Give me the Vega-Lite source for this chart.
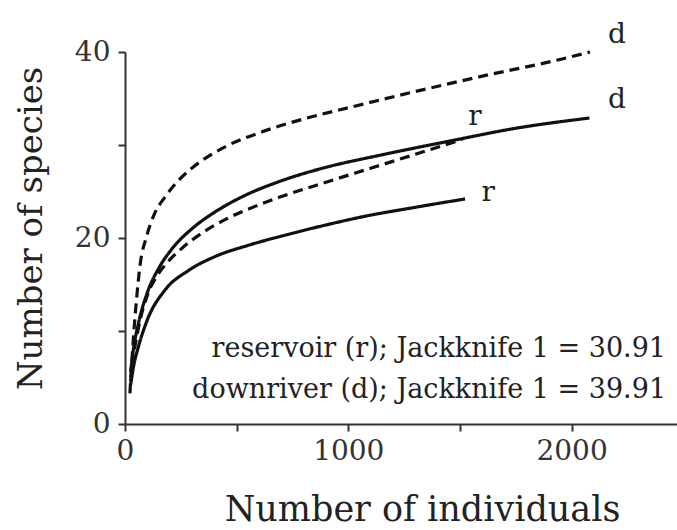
{
  "$schema": "https://vega.github.io/schema/vega-lite/v6.json",
  "width": 552,
  "height": 372,
  "autosize": {"type": "none"},
  "padding": {"left": 125, "top": 52, "right": 0, "bottom": 106},
  "background": "white",
  "config": {
    "view": {"stroke": null},
    "font": "DejaVu Serif",
    "axis": {
      "grid": false,
      "domainColor": "#333",
      "domainWidth": 2,
      "tickColor": "#333",
      "tickWidth": 2,
      "tickSize": 7,
      "labelFont": "DejaVu Serif",
      "labelFontSize": 28,
      "labelColor": "#333",
      "titleFont": "DejaVu Serif",
      "titleFontSize": 34,
      "titleFontWeight": "normal",
      "titleColor": "#222"
    }
  },
  "datasets": {
    "curves": [
      {"series": "d_obs", "kind": "observed", "n": 25, "s": 5.6},
      {"series": "d_obs", "kind": "observed", "n": 40, "s": 8.4},
      {"series": "d_obs", "kind": "observed", "n": 60, "s": 10.8},
      {"series": "d_obs", "kind": "observed", "n": 104, "s": 14.4},
      {"series": "d_obs", "kind": "observed", "n": 150, "s": 16.7},
      {"series": "d_obs", "kind": "observed", "n": 216, "s": 19.0},
      {"series": "d_obs", "kind": "observed", "n": 300, "s": 21.0},
      {"series": "d_obs", "kind": "observed", "n": 403, "s": 22.8},
      {"series": "d_obs", "kind": "observed", "n": 522, "s": 24.4},
      {"series": "d_obs", "kind": "observed", "n": 694, "s": 26.1},
      {"series": "d_obs", "kind": "observed", "n": 900, "s": 27.6},
      {"series": "d_obs", "kind": "observed", "n": 1142, "s": 28.9},
      {"series": "d_obs", "kind": "observed", "n": 1470, "s": 30.5},
      {"series": "d_obs", "kind": "observed", "n": 1750, "s": 31.8},
      {"series": "d_obs", "kind": "observed", "n": 2080, "s": 32.9},
      {"series": "r_obs", "kind": "observed", "n": 25, "s": 4.2},
      {"series": "r_obs", "kind": "observed", "n": 40, "s": 6.4},
      {"series": "r_obs", "kind": "observed", "n": 60, "s": 8.3},
      {"series": "r_obs", "kind": "observed", "n": 100, "s": 11.2},
      {"series": "r_obs", "kind": "observed", "n": 179, "s": 14.4},
      {"series": "r_obs", "kind": "observed", "n": 284, "s": 16.5},
      {"series": "r_obs", "kind": "observed", "n": 403, "s": 18.0},
      {"series": "r_obs", "kind": "observed", "n": 550, "s": 19.2},
      {"series": "r_obs", "kind": "observed", "n": 700, "s": 20.2},
      {"series": "r_obs", "kind": "observed", "n": 900, "s": 21.4},
      {"series": "r_obs", "kind": "observed", "n": 1067, "s": 22.3},
      {"series": "r_obs", "kind": "observed", "n": 1300, "s": 23.3},
      {"series": "r_obs", "kind": "observed", "n": 1523, "s": 24.2},
      {"series": "r_est", "kind": "estimated", "n": 25, "s": 4.6},
      {"series": "r_est", "kind": "estimated", "n": 40, "s": 7.6},
      {"series": "r_est", "kind": "estimated", "n": 60, "s": 10.3},
      {"series": "r_est", "kind": "estimated", "n": 104, "s": 14.1},
      {"series": "r_est", "kind": "estimated", "n": 140, "s": 15.8},
      {"series": "r_est", "kind": "estimated", "n": 187, "s": 17.3},
      {"series": "r_est", "kind": "estimated", "n": 260, "s": 19.0},
      {"series": "r_est", "kind": "estimated", "n": 343, "s": 20.5},
      {"series": "r_est", "kind": "estimated", "n": 450, "s": 22.0},
      {"series": "r_est", "kind": "estimated", "n": 582, "s": 23.4},
      {"series": "r_est", "kind": "estimated", "n": 694, "s": 24.4},
      {"series": "r_est", "kind": "estimated", "n": 900, "s": 26.0},
      {"series": "r_est", "kind": "estimated", "n": 1100, "s": 27.5},
      {"series": "r_est", "kind": "estimated", "n": 1300, "s": 29.0},
      {"series": "r_est", "kind": "estimated", "n": 1510, "s": 30.6},
      {"series": "d_est", "kind": "estimated", "n": 22, "s": 3.3},
      {"series": "d_est", "kind": "estimated", "n": 30, "s": 6.5},
      {"series": "d_est", "kind": "estimated", "n": 40, "s": 10.0},
      {"series": "d_est", "kind": "estimated", "n": 52, "s": 13.5},
      {"series": "d_est", "kind": "estimated", "n": 67, "s": 17.0},
      {"series": "d_est", "kind": "estimated", "n": 97, "s": 20.2},
      {"series": "d_est", "kind": "estimated", "n": 134, "s": 22.7},
      {"series": "d_est", "kind": "estimated", "n": 179, "s": 24.4},
      {"series": "d_est", "kind": "estimated", "n": 240, "s": 26.2},
      {"series": "d_est", "kind": "estimated", "n": 299, "s": 27.5},
      {"series": "d_est", "kind": "estimated", "n": 448, "s": 29.8},
      {"series": "d_est", "kind": "estimated", "n": 612, "s": 31.4},
      {"series": "d_est", "kind": "estimated", "n": 800, "s": 32.8},
      {"series": "d_est", "kind": "estimated", "n": 1000, "s": 34.0},
      {"series": "d_est", "kind": "estimated", "n": 1291, "s": 35.7},
      {"series": "d_est", "kind": "estimated", "n": 1600, "s": 37.4},
      {"series": "d_est", "kind": "estimated", "n": 1948, "s": 39.2},
      {"series": "d_est", "kind": "estimated", "n": 2082, "s": 40.0}
    ],
    "endLabels": [
      {"label": "d", "n": 2203, "s": 41.8},
      {"label": "d", "n": 2203, "s": 34.8},
      {"label": "r", "n": 1567, "s": 33.0},
      {"label": "r", "n": 1626, "s": 24.8}
    ],
    "notes": [
      {"text": "reservoir (r); Jackknife 1 = 30.91", "n": 2423, "s": 7.2},
      {"text": "downriver (d); Jackknife 1 = 39.91", "n": 2423, "s": 2.8}
    ]
  },
  "layer": [
    {
      "data": {"name": "curves"},
      "mark": {"type": "line", "interpolate": "monotone", "color": "#111", "strokeWidth": 3.2},
      "encoding": {
        "x": {
          "field": "n", "type": "quantitative",
          "scale": {"domain": [0, 2472], "nice": false, "zero": true},
          "axis": {
            "values": [0, 500, 1000, 1500, 2000],
            "format": "d",
            "labelExpr": "datum.value % 1000 === 0 ? datum.label : ''",
            "labelPadding": 6,
            "labelFlush": false,
            "labelOverlap": false,
            "title": "Number of individuals",
            "titleFontSize": 35,
            "titleBaseline": "alphabetic",
            "titleAlign": "center",
            "titleX": 297,
            "titleY": 96
          }
        },
        "y": {
          "field": "s", "type": "quantitative",
          "scale": {"domain": [0, 40], "nice": false},
          "axis": {
            "values": [0, 10, 20, 30, 40],
            "labelExpr": "datum.value % 20 === 0 ? datum.label : ''",
            "labelPadding": 8,
            "labelFlush": false,
            "labelOverlap": false,
            "title": "Number of species",
            "titleBaseline": "alphabetic",
            "titleAngle": -90,
            "titleAlign": "center",
            "titleX": -84,
            "titleY": 176
          }
        },
        "detail": {"field": "series"},
        "strokeDash": {
          "field": "kind", "type": "nominal",
          "scale": {"domain": ["observed", "estimated"], "range": [[1, 0], [10, 6]]},
          "legend": null
        }
      }
    },
    {
      "data": {"name": "endLabels"},
      "mark": {"type": "text", "font": "DejaVu Serif", "fontSize": 28, "color": "#222", "align": "center", "baseline": "middle"},
      "encoding": {
        "x": {"field": "n", "type": "quantitative"},
        "y": {"field": "s", "type": "quantitative"},
        "text": {"field": "label"}
      }
    },
    {
      "data": {"name": "notes"},
      "mark": {"type": "text", "font": "DejaVu Serif", "fontSize": 27, "color": "#222", "align": "right", "baseline": "alphabetic"},
      "encoding": {
        "x": {"field": "n", "type": "quantitative"},
        "y": {"field": "s", "type": "quantitative"},
        "text": {"field": "text"}
      }
    }
  ]
}
